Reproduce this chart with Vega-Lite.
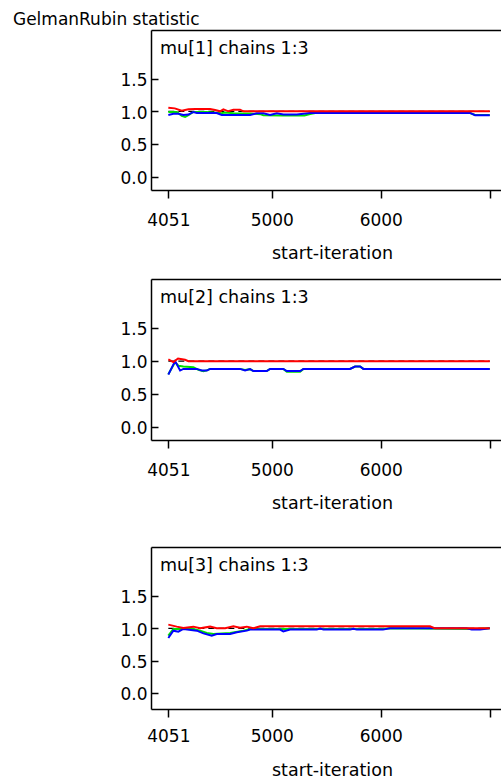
{
  "$schema": "https://vega.github.io/schema/vega-lite/v6.json",
  "padding": {"left": 12, "top": 11, "right": 0, "bottom": 0},
  "title": {"text": "GelmanRubin statistic", "anchor": "start", "frame": "bounds", "dx": -107, "offset": -12, "baseline": "alphabetic", "fontSize": 17, "fontWeight": "normal", "font": "DejaVu Sans", "color": "black"},
  "config": {
    "font": "DejaVu Sans",
    "view": {"stroke": null},
    "axis": {"labelFont": "DejaVu Sans", "labelFontSize": 17, "labelColor": "black", "titleFont": "DejaVu Sans", "titleFontSize": 17.5, "titleFontWeight": "normal", "titleColor": "black", "domainColor": "black", "domainWidth": 1.5, "tickColor": "black", "tickWidth": 1.5, "grid": false}
  },
  "datasets": {
    "p1": [
      {"series":"green","iter":4051,"value":0.99},{"series":"green","iter":4130,"value":0.99},{"series":"green","iter":4174,"value":0.93},{"series":"green","iter":4205,"value":0.914},{"series":"green","iter":4235,"value":0.94},{"series":"green","iter":4280,"value":0.99},{"series":"green","iter":4400,"value":0.99},{"series":"green","iter":4495,"value":0.98},{"series":"green","iter":4540,"value":0.97},{"series":"green","iter":4570,"value":0.98},{"series":"green","iter":4650,"value":0.97},{"series":"green","iter":4801,"value":0.965},{"series":"green","iter":4900,"value":0.955},{"series":"green","iter":4923,"value":0.94},{"series":"green","iter":5100,"value":0.935},{"series":"green","iter":5300,"value":0.935},{"series":"green","iter":5351,"value":0.96},{"series":"green","iter":5400,"value":0.975},{"series":"green","iter":6000,"value":0.975},{"series":"green","iter":6819,"value":0.975},{"series":"green","iter":6865,"value":0.945},{"series":"green","iter":7000,"value":0.945},
      {"series":"blue","iter":4051,"value":0.944},{"series":"blue","iter":4097,"value":0.964},{"series":"blue","iter":4143,"value":0.964},{"series":"blue","iter":4189,"value":0.944},{"series":"blue","iter":4235,"value":0.95},{"series":"blue","iter":4281,"value":0.99},{"series":"blue","iter":4312,"value":0.975},{"series":"blue","iter":4495,"value":0.975},{"series":"blue","iter":4541,"value":0.944},{"series":"blue","iter":4801,"value":0.944},{"series":"blue","iter":4862,"value":0.97},{"series":"blue","iter":4923,"value":0.97},{"series":"blue","iter":4984,"value":0.944},{"series":"blue","iter":5046,"value":0.97},{"series":"blue","iter":5106,"value":0.95},{"series":"blue","iter":5229,"value":0.95},{"series":"blue","iter":5351,"value":0.975},{"series":"blue","iter":6000,"value":0.975},{"series":"blue","iter":6819,"value":0.975},{"series":"blue","iter":6865,"value":0.94},{"series":"blue","iter":7000,"value":0.94},
      {"series":"red","iter":4051,"value":1.056},{"series":"red","iter":4110,"value":1.045},{"series":"red","iter":4174,"value":1.01},{"series":"red","iter":4235,"value":1.03},{"series":"red","iter":4300,"value":1.036},{"series":"red","iter":4434,"value":1.036},{"series":"red","iter":4480,"value":1.02},{"series":"red","iter":4526,"value":1.0},{"series":"red","iter":4556,"value":1.03},{"series":"red","iter":4602,"value":1.0},{"series":"red","iter":4648,"value":1.025},{"series":"red","iter":4709,"value":1.025},{"series":"red","iter":4740,"value":1.0},{"series":"red","iter":5500,"value":1.0},{"series":"red","iter":6500,"value":1.0},{"series":"red","iter":7000,"value":1.0}
    ],
    "p2": [
      {"series":"green","iter":4051,"value":0.8},{"series":"green","iter":4113,"value":0.985},{"series":"green","iter":4143,"value":0.93},{"series":"green","iter":4189,"value":0.918},{"series":"green","iter":4281,"value":0.908},{"series":"green","iter":4327,"value":0.867},{"series":"green","iter":4373,"value":0.846},{"series":"green","iter":4404,"value":0.86},{"series":"green","iter":4434,"value":0.882},{"series":"green","iter":4709,"value":0.882},{"series":"green","iter":4755,"value":0.865},{"series":"green","iter":4801,"value":0.878},{"series":"green","iter":4831,"value":0.85},{"series":"green","iter":4954,"value":0.85},{"series":"green","iter":4984,"value":0.882},{"series":"green","iter":5106,"value":0.882},{"series":"green","iter":5138,"value":0.84},{"series":"green","iter":5260,"value":0.84},{"series":"green","iter":5290,"value":0.882},{"series":"green","iter":5718,"value":0.882},{"series":"green","iter":5764,"value":0.918},{"series":"green","iter":5810,"value":0.918},{"series":"green","iter":5840,"value":0.882},{"series":"green","iter":7000,"value":0.882},
      {"series":"blue","iter":4051,"value":0.795},{"series":"blue","iter":4113,"value":1.0},{"series":"blue","iter":4159,"value":0.857},{"series":"blue","iter":4189,"value":0.882},{"series":"blue","iter":4312,"value":0.882},{"series":"blue","iter":4358,"value":0.857},{"series":"blue","iter":4404,"value":0.857},{"series":"blue","iter":4434,"value":0.882},{"series":"blue","iter":4709,"value":0.882},{"series":"blue","iter":4755,"value":0.857},{"series":"blue","iter":4801,"value":0.878},{"series":"blue","iter":4831,"value":0.85},{"series":"blue","iter":4954,"value":0.85},{"series":"blue","iter":4984,"value":0.882},{"series":"blue","iter":5106,"value":0.882},{"series":"blue","iter":5138,"value":0.85},{"series":"blue","iter":5260,"value":0.85},{"series":"blue","iter":5290,"value":0.882},{"series":"blue","iter":5718,"value":0.882},{"series":"blue","iter":5764,"value":0.918},{"series":"blue","iter":5810,"value":0.918},{"series":"blue","iter":5840,"value":0.882},{"series":"blue","iter":7000,"value":0.882},
      {"series":"red","iter":4051,"value":1.026},{"series":"red","iter":4097,"value":0.985},{"series":"red","iter":4140,"value":1.04},{"series":"red","iter":4205,"value":1.02},{"series":"red","iter":4235,"value":1.0},{"series":"red","iter":5500,"value":1.0},{"series":"red","iter":7000,"value":1.0}
    ],
    "p3": [
      {"series":"green","iter":4051,"value":0.886},{"series":"green","iter":4097,"value":0.99},{"series":"green","iter":4159,"value":0.99},{"series":"green","iter":4189,"value":1.0},{"series":"green","iter":4281,"value":0.99},{"series":"green","iter":4342,"value":0.964},{"series":"green","iter":4404,"value":0.928},{"series":"green","iter":4465,"value":0.912},{"series":"green","iter":4618,"value":0.928},{"series":"green","iter":4740,"value":0.964},{"series":"green","iter":4801,"value":0.99},{"series":"green","iter":5500,"value":0.99},{"series":"green","iter":6020,"value":0.99},{"series":"green","iter":6085,"value":1.0},{"series":"green","iter":6880,"value":0.99},{"series":"green","iter":7000,"value":1.0},
      {"series":"blue","iter":4051,"value":0.85},{"series":"blue","iter":4097,"value":0.964},{"series":"blue","iter":4143,"value":0.948},{"series":"blue","iter":4189,"value":0.99},{"series":"blue","iter":4312,"value":0.964},{"series":"blue","iter":4373,"value":0.922},{"series":"blue","iter":4449,"value":0.886},{"series":"blue","iter":4495,"value":0.912},{"series":"blue","iter":4618,"value":0.912},{"series":"blue","iter":4679,"value":0.938},{"series":"blue","iter":4771,"value":0.964},{"series":"blue","iter":4801,"value":0.98},{"series":"blue","iter":5076,"value":0.98},{"series":"blue","iter":5106,"value":0.953},{"series":"blue","iter":5168,"value":0.98},{"series":"blue","iter":5413,"value":0.98},{"series":"blue","iter":5444,"value":0.995},{"series":"blue","iter":5474,"value":0.98},{"series":"blue","iter":5718,"value":0.98},{"series":"blue","iter":5749,"value":0.993},{"series":"blue","iter":5780,"value":0.98},{"series":"blue","iter":6020,"value":0.98},{"series":"blue","iter":6085,"value":1.0},{"series":"blue","iter":6789,"value":1.0},{"series":"blue","iter":6834,"value":0.98},{"series":"blue","iter":6911,"value":0.98},{"series":"blue","iter":7000,"value":1.0},
      {"series":"red","iter":4051,"value":1.057},{"series":"red","iter":4128,"value":1.026},{"series":"red","iter":4189,"value":1.005},{"series":"red","iter":4281,"value":1.026},{"series":"red","iter":4342,"value":1.0},{"series":"red","iter":4434,"value":1.026},{"series":"red","iter":4495,"value":1.0},{"series":"red","iter":4572,"value":1.0},{"series":"red","iter":4648,"value":1.031},{"series":"red","iter":4709,"value":1.01},{"series":"red","iter":4771,"value":1.026},{"series":"red","iter":4831,"value":1.0},{"series":"red","iter":4893,"value":1.031},{"series":"red","iter":5500,"value":1.031},{"series":"red","iter":6452,"value":1.031},{"series":"red","iter":6498,"value":1.0},{"series":"red","iter":7000,"value":1.0}
    ],
    "ref": [{"iter":4051,"iter2":7000,"value":1}]
  },
  "spacing": 17,
  "vconcat": [
    {
      "width": 350, "height": 160,
      "title": {"text": "mu[1] chains 1:3", "anchor": "start", "frame": "group", "offset": -41, "dx": 9, "baseline": "alphabetic", "fontSize": 17.5, "fontWeight": "normal", "font": "DejaVu Sans", "color": "black"},
      "encoding": {"y": {"field": "value", "type": "quantitative", "scale": {"domain": [-0.2, 2.24], "nice": false, "zero": false}, "axis": {"values": [0, 0.5, 1, 1.5], "format": ".1f", "tickSize": -7, "labelPadding": 11, "labelOffset": 1.7, "title": null}}},
      "layer": [
        {"data": {"name": "ref"}, "mark": {"type": "rule", "color": "black", "strokeDash": [6, 4], "strokeWidth": 1.3},
         "encoding": {"x": {"field": "iter", "type": "quantitative", "scale": {"domain": [3892, 7103], "nice": false, "zero": false}, "axis": {"orient": "top", "labels": false, "ticks": false, "title": null}}, "x2": {"field": "iter2"}}},
        {"data": {"name": "p1"}, "mark": {"type": "line", "strokeWidth": 2},
         "encoding": {"x": {"field": "iter", "type": "quantitative", "scale": {"domain": [3892, 7103], "nice": false, "zero": false}, "axis": {"orient": "bottom", "values": [4051, 5000, 6000, 7000], "format": "d", "labelExpr": "datum.value == 7000 ? '' : datum.label", "tickSize": 8, "labelPadding": 27, "labelBaseline": "alphabetic", "labelFlush": false, "labelOverlap": false, "title": "start-iteration", "titleX": 181, "titleY": 68, "titleBaseline": "alphabetic"}},
          "color": {"field": "series", "type": "nominal", "scale": {"domain": ["green", "blue", "red"], "range": ["#00e000", "#0000ff", "#ff0000"]}, "legend": null}}}
      ],
      "resolve": {"axis": {"x": "independent"}}
    },
    {
      "spacing": 35,
      "vconcat": [
        {
          "width": 350, "height": 161,
          "title": {"text": "mu[2] chains 1:3", "anchor": "start", "frame": "group", "offset": -41, "dx": 9, "baseline": "alphabetic", "fontSize": 17.5, "fontWeight": "normal", "font": "DejaVu Sans", "color": "black"},
          "encoding": {"y": {"field": "value", "type": "quantitative", "scale": {"domain": [-0.2, 2.25], "nice": false, "zero": false}, "axis": {"values": [0, 0.5, 1, 1.5], "format": ".1f", "tickSize": -7, "labelPadding": 11, "labelOffset": 1.7, "title": null}}},
          "layer": [
            {"data": {"name": "ref"}, "mark": {"type": "rule", "color": "black", "strokeDash": [6, 4], "strokeWidth": 1.3},
             "encoding": {"x": {"field": "iter", "type": "quantitative", "scale": {"domain": [3892, 7103], "nice": false, "zero": false}, "axis": {"orient": "top", "labels": false, "ticks": false, "title": null}}, "x2": {"field": "iter2"}}},
            {"data": {"name": "p2"}, "mark": {"type": "line", "strokeWidth": 2},
             "encoding": {"x": {"field": "iter", "type": "quantitative", "scale": {"domain": [3892, 7103], "nice": false, "zero": false}, "axis": {"orient": "bottom", "values": [4051, 5000, 6000, 7000], "format": "d", "labelExpr": "datum.value == 7000 ? '' : datum.label", "tickSize": 8, "labelPadding": 27, "labelBaseline": "alphabetic", "labelFlush": false, "labelOverlap": false, "title": "start-iteration", "titleX": 181, "titleY": 68, "titleBaseline": "alphabetic"}},
              "color": {"field": "series", "type": "nominal", "scale": {"domain": ["green", "blue", "red"], "range": ["#00e000", "#0000ff", "#ff0000"]}, "legend": null}}}
          ],
          "resolve": {"axis": {"x": "independent"}}
        },
        {
          "width": 350, "height": 162,
          "title": {"text": "mu[3] chains 1:3", "anchor": "start", "frame": "group", "offset": -41, "dx": 9, "baseline": "alphabetic", "fontSize": 17.5, "fontWeight": "normal", "font": "DejaVu Sans", "color": "black"},
          "encoding": {"y": {"field": "value", "type": "quantitative", "scale": {"domain": [-0.25, 2.26], "nice": false, "zero": false}, "axis": {"values": [0, 0.5, 1, 1.5], "format": ".1f", "tickSize": -7, "labelPadding": 11, "labelOffset": 1.7, "title": null}}},
          "layer": [
            {"data": {"name": "ref"}, "mark": {"type": "rule", "color": "black", "strokeDash": [6, 4], "strokeWidth": 1.3},
             "encoding": {"x": {"field": "iter", "type": "quantitative", "scale": {"domain": [3892, 7103], "nice": false, "zero": false}, "axis": {"orient": "top", "labels": false, "ticks": false, "title": null}}, "x2": {"field": "iter2"}}},
            {"data": {"name": "p3"}, "mark": {"type": "line", "strokeWidth": 2},
             "encoding": {"x": {"field": "iter", "type": "quantitative", "scale": {"domain": [3892, 7103], "nice": false, "zero": false}, "axis": {"orient": "bottom", "values": [4051, 5000, 6000, 7000], "format": "d", "labelExpr": "datum.value == 7000 ? '' : datum.label", "tickSize": 8, "labelPadding": 24, "labelBaseline": "alphabetic", "labelFlush": false, "labelOverlap": false, "title": "start-iteration", "titleX": 181, "titleY": 66, "titleBaseline": "alphabetic"}},
              "color": {"field": "series", "type": "nominal", "scale": {"domain": ["green", "blue", "red"], "range": ["#00e000", "#0000ff", "#ff0000"]}, "legend": null}}}
          ],
          "resolve": {"axis": {"x": "independent"}}
        }
      ]
    }
  ]
}
